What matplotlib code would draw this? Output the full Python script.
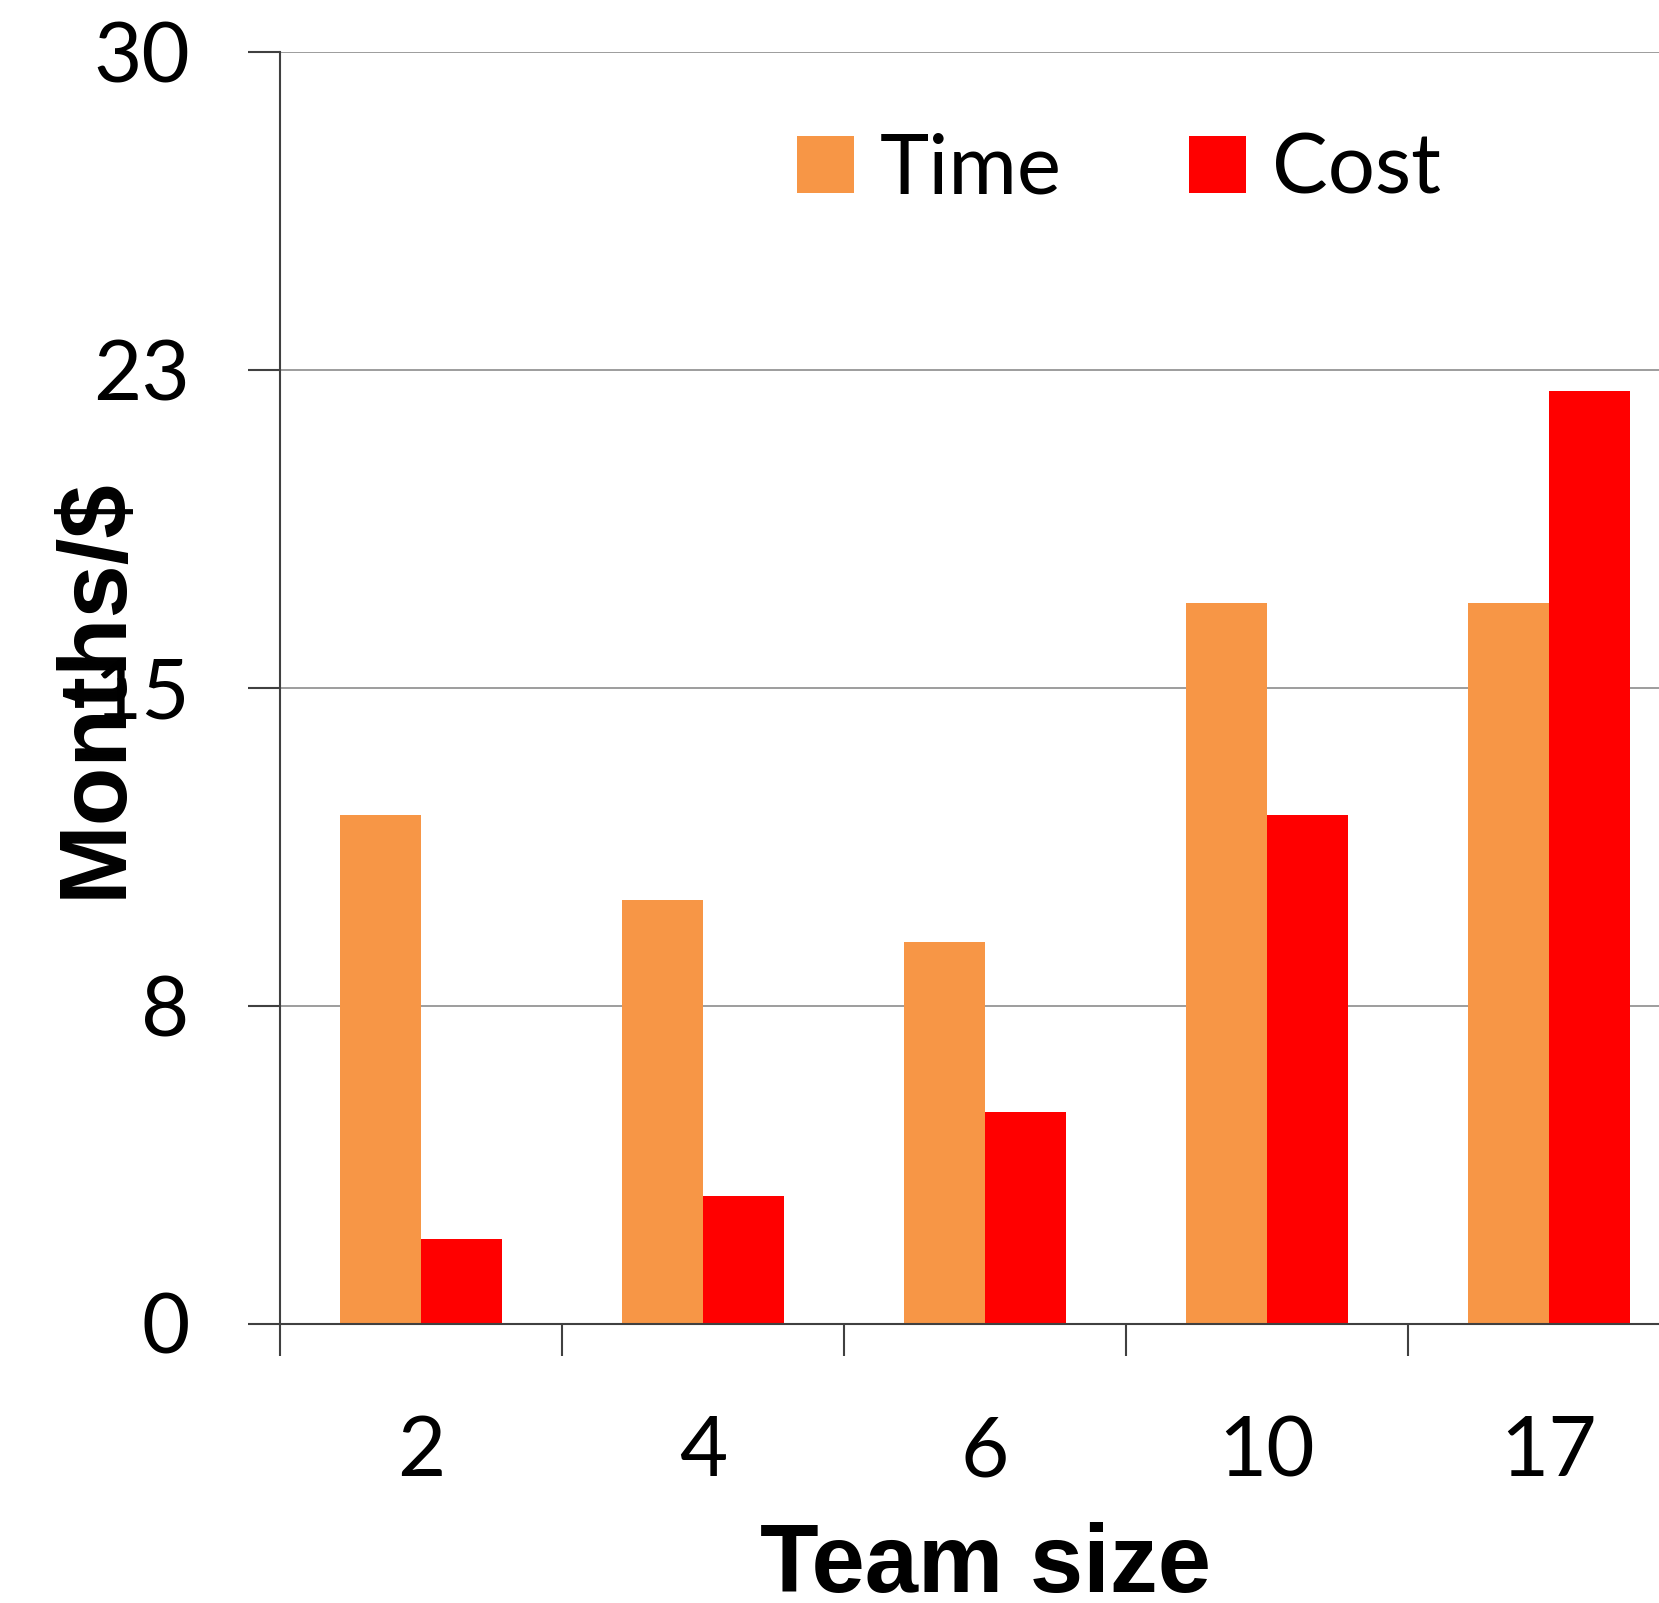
import math
import matplotlib
matplotlib.use("Agg")
import matplotlib.pyplot as plt
from matplotlib.ticker import FixedLocator, FuncFormatter, NullFormatter
import numpy as np

# Data
team_sizes = ["2", "4", "6", "10", "17"]
time_months = [12, 10, 9, 17, 17]
cost_dollars = [2, 3, 5, 12, 22]
y_ticks = [0, 7.5, 15, 22.5, 30]

time_color = "#F79646"
cost_color = "#FF0000"
grid_color = "#8C8C8C"
axis_color = "#404040"

W, H = 1659, 1603
fig = plt.figure(figsize=(W / 100, H / 100), dpi=100)

# plot area in pixels (left, top, right, bottom); the right part runs past the canvas edge
left_px, top_px, right_px, bottom_px = 280, 51.7, 1690, 1323.5
ax = fig.add_axes([left_px / W, 1 - bottom_px / H,
                   (right_px - left_px) / W, (bottom_px - top_px) / H])

x = np.arange(len(team_sizes))
bar_w = 1 / 3.5  # gap width 150%
ax.bar(x - bar_w / 2, time_months, width=bar_w, color=time_color, label="Time", zorder=2)
ax.bar(x + bar_w / 2, cost_dollars, width=bar_w, color=cost_color, label="Cost", zorder=2)

ax.set_xlim(-0.5, len(team_sizes) - 0.5)
ax.set_ylim(0, 30)

# y axis: labels rounded half-up
ax.yaxis.set_major_locator(FixedLocator(y_ticks))
ax.yaxis.set_major_formatter(FuncFormatter(lambda v, p: str(int(math.floor(v + 0.5)))))
ax.grid(axis="y", color=grid_color, linewidth=1.2, zorder=0)
ax.set_axisbelow(True)

# x axis: tick marks between categories, labels at the centres
ax.xaxis.set_major_locator(FixedLocator(np.arange(len(team_sizes) + 1) - 0.5))
ax.xaxis.set_major_formatter(NullFormatter())
ax.xaxis.set_minor_locator(FixedLocator(x))
ax.xaxis.set_minor_formatter(FuncFormatter(lambda v, p: team_sizes[int(round(v))]))

tick_font = "Lato"
ax.tick_params(axis="both", which="major", direction="out", length=23,
               width=1.5, color=axis_color)
ax.tick_params(axis="y", which="major", pad=42, labelsize=60, labelcolor="black")
ax.tick_params(axis="x", which="minor", length=0, pad=66, labelsize=60, labelcolor="black")
for lab in ax.get_yticklabels() + ax.get_xticklabels(minor=True):
    lab.set_fontfamily(tick_font)

for side in ("top", "right"):
    ax.spines[side].set_visible(False)
for side in ("left", "bottom"):
    ax.spines[side].set_color(axis_color)
    ax.spines[side].set_linewidth(1.5)
    ax.spines[side].set_zorder(3)

label_font = dict(family="Liberation Sans", weight="bold", size=69)
ax.set_ylabel("Months/$", va="baseline", **label_font)
ax.yaxis.set_label_coords((121 - left_px) / (right_px - left_px), 0.5)
ax.set_xlabel("Team size", va="baseline", **label_font)
ax.xaxis.set_label_coords(0.5, -(1592 - bottom_px) / (bottom_px - top_px))

leg = ax.legend(loc="center left", bbox_to_anchor=(797 / W, 1 - 170.5 / H),
                bbox_transform=fig.transFigure, ncol=2, frameon=False,
                prop={"family": tick_font, "size": 60},
                handlelength=0.68, handleheight=0.68, handletextpad=0.31,
                columnspacing=1.53, borderpad=0, borderaxespad=0)

fig.savefig("out.png", dpi=100)
